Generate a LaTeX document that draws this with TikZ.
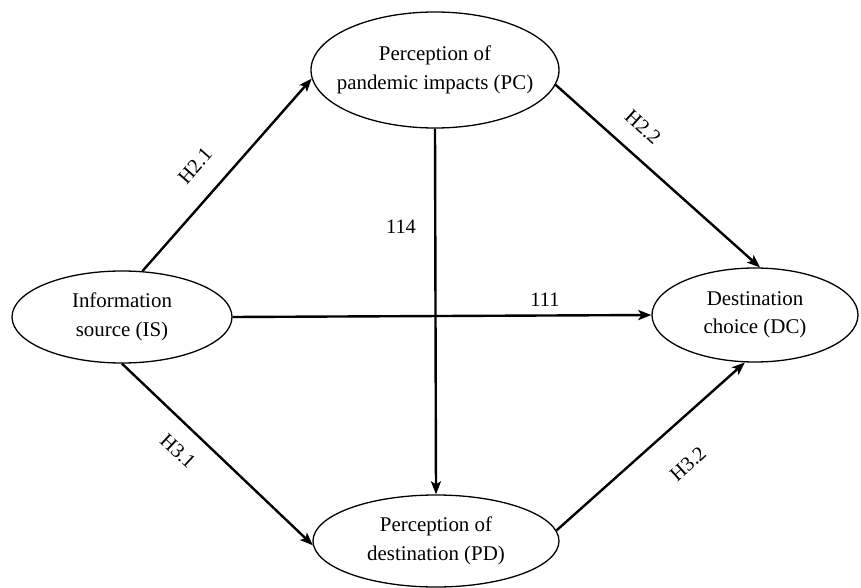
\documentclass[tikz,border=0pt]{standalone}
\usepackage{fontspec}
\setmainfont{Liberation Serif}
\usetikzlibrary{shapes.geometric,arrows.meta}
\begin{document}
\begin{tikzpicture}[x=1bp,y=-1bp,
  ell/.style={ellipse,draw,line width=1.3bp,inner xsep=-30bp,inner ysep=-10bp,align=center,font=\fontsize{21}{28.5}\selectfont},
  conn/.style={line width=2.4bp,-{Stealth[length=13bp,width=10bp,inset=3bp]}},
  lab/.style={font=\fontsize{20.5}{22}\selectfont,inner sep=1pt}]
\useasboundingbox (0,0) rectangle (861,588);
\node[ell,minimum width=248bp,minimum height=116bp] (PC) at (435,70) {Perception of\\pandemic impacts (PC)};
\node[ell,minimum width=220bp,minimum height=92bp] (IS) at (122,317) {Information\\source (IS)};
\node[ell,minimum width=206bp,minimum height=94bp] (DC) at (755,315) {Destination\\choice (DC)};
\node[ell,minimum width=246bp,minimum height=92bp] (PD) at (436,541) {Perception of\\destination (PD)};
\draw[conn] (IS.66) -- (PC.184);
\draw[conn] (PC.-7) -- (DC.84);
\draw[conn] (IS.east) -- (DC.west);
\draw[conn] (PC.south) -- (PD.north);
\draw[conn] (IS.-90) -- (PD.182);
\draw[conn] (PD.5) -- (DC.258);
\node[lab,rotate=49] (l21) at (195,166) {H2.1};
\node[lab,rotate=-42] (l22) at (643,127) {H2.2};
\node[lab,rotate=-43] (l31) at (178,451) {H3.1};
\node[lab,rotate=42] (l32) at (688,464) {H3.2};
\node[lab] (l114) at (401,227) {114};
\node[lab] (l111) at (545,300) {111};
\end{tikzpicture}
\end{document}
